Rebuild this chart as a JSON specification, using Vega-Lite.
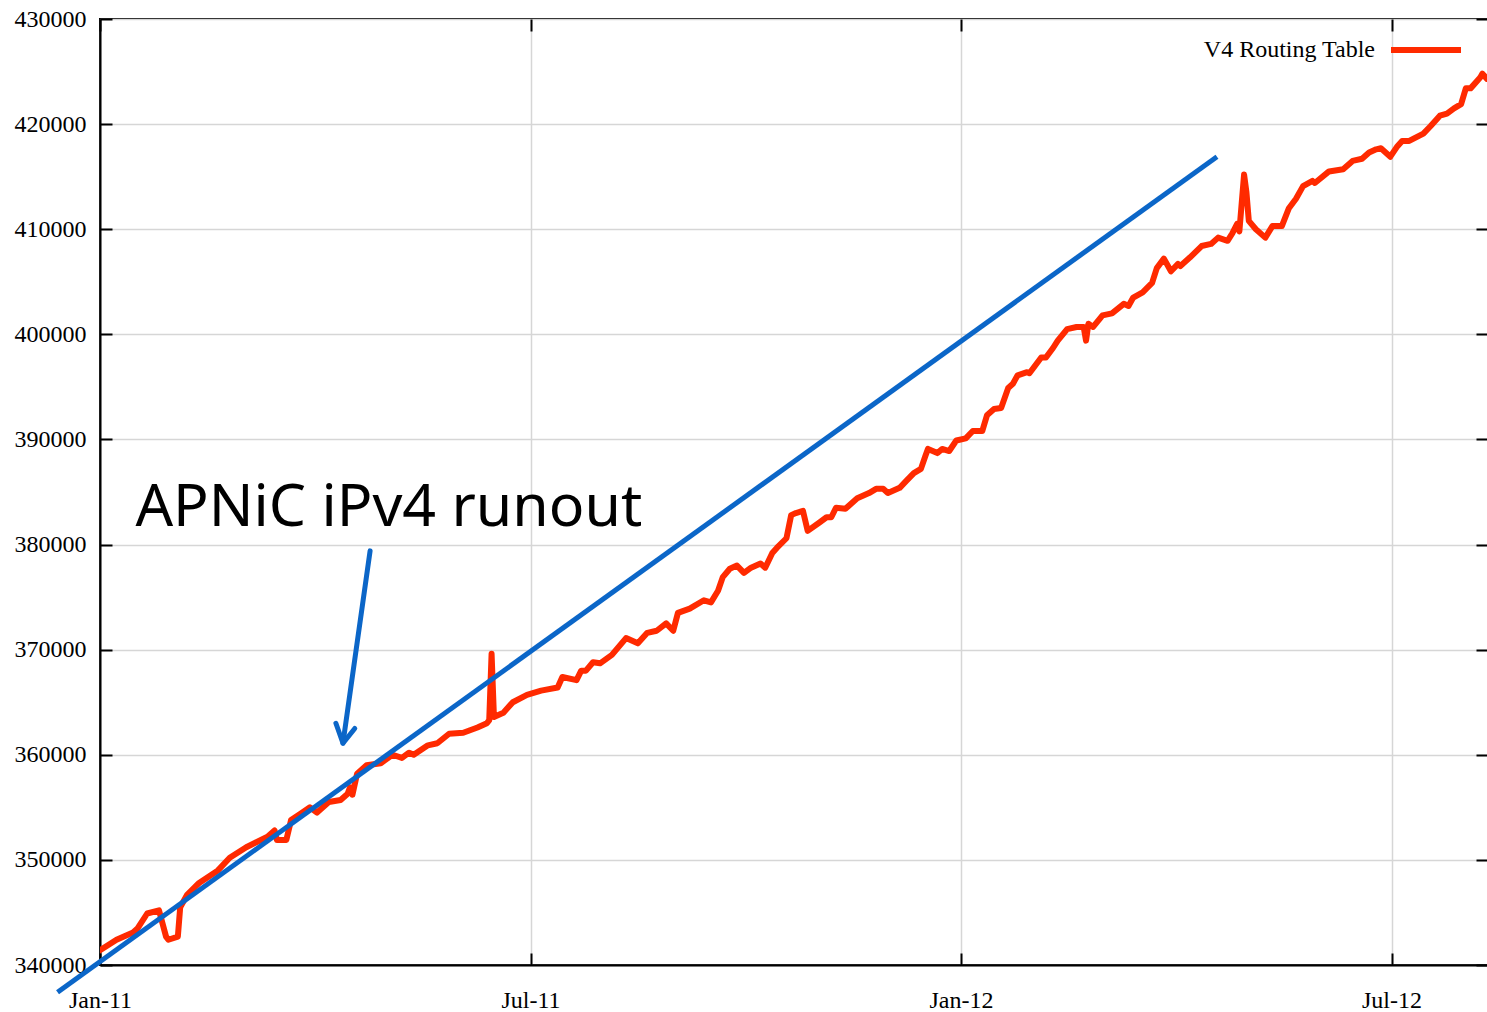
{
  "$schema": "https://vega.github.io/schema/vega-lite/v6.json",
  "width": 1388,
  "height": 946,
  "autosize": "none",
  "padding": {"left": 100, "top": 19, "right": 0, "bottom": 47},
  "background": "white",
  "config": {
    "view": {"stroke": "black", "strokeWidth": 2},
    "axis": {
      "title": null,
      "grid": false,
      "domainColor": "black",
      "domainWidth": 2,
      "tickColor": "black",
      "tickWidth": 2,
      "tickSize": -12,
      "labelFont": "Liberation Serif",
      "labelFontSize": 24,
      "labelColor": "black",
      "labelFlush": false,
      "labelOverlap": false
    }
  },
  "datasets": {
    "routing": [
      {"date": "2011-01-01", "v": 341400},
      {"date": "2011-01-08", "v": 342400},
      {"date": "2011-01-15", "v": 343100},
      {"date": "2011-01-17", "v": 343500},
      {"date": "2011-01-21", "v": 344900},
      {"date": "2011-01-26", "v": 345200},
      {"date": "2011-01-29", "v": 342700},
      {"date": "2011-01-30", "v": 342400},
      {"date": "2011-02-03", "v": 342700},
      {"date": "2011-02-04", "v": 345500},
      {"date": "2011-02-07", "v": 346700},
      {"date": "2011-02-12", "v": 347800},
      {"date": "2011-02-20", "v": 349000},
      {"date": "2011-02-25", "v": 350200},
      {"date": "2011-03-04", "v": 351200},
      {"date": "2011-03-13", "v": 352200},
      {"date": "2011-03-16", "v": 352800},
      {"date": "2011-03-17", "v": 351900},
      {"date": "2011-03-21", "v": 351900},
      {"date": "2011-03-23", "v": 353800},
      {"date": "2011-03-27", "v": 354400},
      {"date": "2011-03-31", "v": 355000},
      {"date": "2011-04-03", "v": 354500},
      {"date": "2011-04-08", "v": 355500},
      {"date": "2011-04-13", "v": 355700},
      {"date": "2011-04-16", "v": 356300},
      {"date": "2011-04-17", "v": 356900},
      {"date": "2011-04-18", "v": 356200},
      {"date": "2011-04-20", "v": 358200},
      {"date": "2011-04-24", "v": 359000},
      {"date": "2011-04-30", "v": 359200},
      {"date": "2011-05-05", "v": 360000},
      {"date": "2011-05-09", "v": 359700},
      {"date": "2011-05-12", "v": 360200},
      {"date": "2011-05-14", "v": 360000},
      {"date": "2011-05-20", "v": 360900},
      {"date": "2011-05-24", "v": 361100},
      {"date": "2011-05-29", "v": 362000},
      {"date": "2011-06-04", "v": 362100},
      {"date": "2011-06-10", "v": 362600},
      {"date": "2011-06-14", "v": 363000},
      {"date": "2011-06-15", "v": 363300},
      {"date": "2011-06-16", "v": 369600},
      {"date": "2011-06-17", "v": 363600},
      {"date": "2011-06-21", "v": 364000},
      {"date": "2011-06-25", "v": 365000},
      {"date": "2011-07-01", "v": 365700},
      {"date": "2011-07-07", "v": 366100},
      {"date": "2011-07-14", "v": 366400},
      {"date": "2011-07-16", "v": 367400},
      {"date": "2011-07-22", "v": 367100},
      {"date": "2011-07-24", "v": 368000},
      {"date": "2011-07-26", "v": 368000},
      {"date": "2011-07-29", "v": 368800},
      {"date": "2011-08-01", "v": 368700},
      {"date": "2011-08-06", "v": 369500},
      {"date": "2011-08-12", "v": 371100},
      {"date": "2011-08-17", "v": 370600},
      {"date": "2011-08-21", "v": 371600},
      {"date": "2011-08-25", "v": 371800},
      {"date": "2011-08-29", "v": 372500},
      {"date": "2011-09-01", "v": 371800},
      {"date": "2011-09-03", "v": 373500},
      {"date": "2011-09-08", "v": 373900},
      {"date": "2011-09-14", "v": 374700},
      {"date": "2011-09-17", "v": 374500},
      {"date": "2011-09-20", "v": 375600},
      {"date": "2011-09-22", "v": 376900},
      {"date": "2011-09-25", "v": 377700},
      {"date": "2011-09-28", "v": 378000},
      {"date": "2011-10-01", "v": 377300},
      {"date": "2011-10-04", "v": 377800},
      {"date": "2011-10-08", "v": 378200},
      {"date": "2011-10-10", "v": 377800},
      {"date": "2011-10-13", "v": 379200},
      {"date": "2011-10-15", "v": 379700},
      {"date": "2011-10-19", "v": 380600},
      {"date": "2011-10-21", "v": 382800},
      {"date": "2011-10-23", "v": 383000},
      {"date": "2011-10-26", "v": 383200},
      {"date": "2011-10-28", "v": 381300},
      {"date": "2011-11-02", "v": 382100},
      {"date": "2011-11-05", "v": 382600},
      {"date": "2011-11-07", "v": 382600},
      {"date": "2011-11-09", "v": 383500},
      {"date": "2011-11-13", "v": 383400},
      {"date": "2011-11-18", "v": 384400},
      {"date": "2011-11-23", "v": 384900},
      {"date": "2011-11-26", "v": 385300},
      {"date": "2011-11-29", "v": 385300},
      {"date": "2011-12-01", "v": 384900},
      {"date": "2011-12-06", "v": 385400},
      {"date": "2011-12-09", "v": 386100},
      {"date": "2011-12-12", "v": 386800},
      {"date": "2011-12-15", "v": 387200},
      {"date": "2011-12-17", "v": 388500},
      {"date": "2011-12-18", "v": 389100},
      {"date": "2011-12-22", "v": 388700},
      {"date": "2011-12-24", "v": 389100},
      {"date": "2011-12-27", "v": 388900},
      {"date": "2011-12-30", "v": 389900},
      {"date": "2012-01-03", "v": 390100},
      {"date": "2012-01-06", "v": 390800},
      {"date": "2012-01-10", "v": 390800},
      {"date": "2012-01-12", "v": 392300},
      {"date": "2012-01-15", "v": 392900},
      {"date": "2012-01-18", "v": 393000},
      {"date": "2012-01-21", "v": 394900},
      {"date": "2012-01-23", "v": 395300},
      {"date": "2012-01-25", "v": 396100},
      {"date": "2012-01-29", "v": 396400},
      {"date": "2012-01-30", "v": 396300},
      {"date": "2012-02-04", "v": 397800},
      {"date": "2012-02-06", "v": 397800},
      {"date": "2012-02-09", "v": 398700},
      {"date": "2012-02-11", "v": 399400},
      {"date": "2012-02-15", "v": 400500},
      {"date": "2012-02-19", "v": 400700},
      {"date": "2012-02-22", "v": 400700},
      {"date": "2012-02-23", "v": 399400},
      {"date": "2012-02-24", "v": 401000},
      {"date": "2012-02-26", "v": 400700},
      {"date": "2012-03-01", "v": 401800},
      {"date": "2012-03-05", "v": 402000},
      {"date": "2012-03-10", "v": 402900},
      {"date": "2012-03-12", "v": 402700},
      {"date": "2012-03-14", "v": 403500},
      {"date": "2012-03-18", "v": 404000},
      {"date": "2012-03-22", "v": 404900},
      {"date": "2012-03-24", "v": 406300},
      {"date": "2012-03-27", "v": 407200},
      {"date": "2012-03-30", "v": 406000},
      {"date": "2012-04-02", "v": 406700},
      {"date": "2012-04-03", "v": 406500},
      {"date": "2012-04-07", "v": 407300},
      {"date": "2012-04-12", "v": 408400},
      {"date": "2012-04-16", "v": 408600},
      {"date": "2012-04-19", "v": 409200},
      {"date": "2012-04-23", "v": 408900},
      {"date": "2012-04-25", "v": 409600},
      {"date": "2012-04-27", "v": 410500},
      {"date": "2012-04-28", "v": 409800},
      {"date": "2012-04-30", "v": 415200},
      {"date": "2012-05-01", "v": 413500},
      {"date": "2012-05-02", "v": 410800},
      {"date": "2012-05-05", "v": 410000},
      {"date": "2012-05-09", "v": 409200},
      {"date": "2012-05-12", "v": 410300},
      {"date": "2012-05-16", "v": 410300},
      {"date": "2012-05-19", "v": 412000},
      {"date": "2012-05-22", "v": 412900},
      {"date": "2012-05-25", "v": 414100},
      {"date": "2012-05-29", "v": 414600},
      {"date": "2012-05-30", "v": 414400},
      {"date": "2012-06-05", "v": 415500},
      {"date": "2012-06-11", "v": 415700},
      {"date": "2012-06-15", "v": 416500},
      {"date": "2012-06-19", "v": 416700},
      {"date": "2012-06-22", "v": 417300},
      {"date": "2012-06-25", "v": 417600},
      {"date": "2012-06-27", "v": 417700},
      {"date": "2012-07-01", "v": 416900},
      {"date": "2012-07-04", "v": 417900},
      {"date": "2012-07-06", "v": 418400},
      {"date": "2012-07-09", "v": 418400},
      {"date": "2012-07-15", "v": 419100},
      {"date": "2012-07-18", "v": 419800},
      {"date": "2012-07-22", "v": 420800},
      {"date": "2012-07-25", "v": 421000},
      {"date": "2012-07-28", "v": 421500},
      {"date": "2012-07-31", "v": 421900},
      {"date": "2012-08-02", "v": 423400},
      {"date": "2012-08-04", "v": 423400},
      {"date": "2012-08-08", "v": 424400},
      {"date": "2012-08-09", "v": 424800},
      {"date": "2012-08-11", "v": 424300}
    ],
    "trend": [
      {"date": "2010-12-14", "v": 337400},
      {"date": "2012-04-18T12:00:00Z", "v": 416900}
    ],
    "arrow": [
      {"part": "shaft", "ord": 1, "date": "2011-04-25T12:00:00Z", "v": 379400},
      {"part": "shaft", "ord": 2, "date": "2011-04-14", "v": 361100},
      {"part": "head", "ord": 1, "date": "2011-04-11", "v": 363000},
      {"part": "head", "ord": 2, "date": "2011-04-14", "v": 361100},
      {"part": "head", "ord": 3, "date": "2011-04-19", "v": 362500}
    ],
    "note": [
      {"date": "2011-01-16", "v": 381800, "t": "APNiC iPv4 runout"}
    ]
  },
  "layer": [
    {
      "data": {"name": "routing"},
      "mark": {"type": "line", "strokeWidth": 6, "strokeJoin": "round", "strokeCap": "round", "clip": true},
      "encoding": {
        "x": {
          "field": "date", "type": "temporal",
          "scale": {"type": "utc", "domain": [1293840000000, 1344677760000]},
          "axis": {
            "orient": "bottom",
            "values": [1293840000000, 1309608000000, 1325376000000, 1341144000000],
            "format": "%b-%y",
            "grid": true, "gridColor": "#d6d6d6", "gridWidth": 1.5,
            "labelPadding": 35
          }
        },
        "y": {
          "field": "v", "type": "quantitative",
          "scale": {"domain": [340000, 430000], "nice": false, "zero": false},
          "axis": {
            "orient": "left",
            "values": [340000, 350000, 360000, 370000, 380000, 390000, 400000, 410000, 420000, 430000],
            "format": "d",
            "grid": true, "gridColor": "#d6d6d6", "gridWidth": 1.5,
            "labelPadding": 26
          }
        },
        "color": {
          "datum": "V4 Routing Table",
          "scale": {"range": ["#ff2a00"]},
          "legend": {
            "title": null,
            "orient": "none",
            "legendX": 1288,
            "legendY": -7,
            "padding": 0,
            "symbolType": "stroke",
            "symbolSize": 4900,
            "symbolStrokeWidth": 6,
            "labelFont": "Liberation Serif",
            "labelFontSize": 24,
            "labelColor": "black",
            "labelAlign": "right",
            "labelOffset": -89,
            "labelLimit": 0
          }
        }
      }
    },
    {
      "data": {"name": "trend"},
      "mark": {"type": "line", "color": "#0b66c8", "strokeWidth": 5, "strokeCap": "butt", "clip": false},
      "encoding": {
        "x": {
          "field": "date", "type": "temporal",
          "scale": {"type": "utc", "domain": [1293840000000, 1344677760000]},
          "axis": {
            "orient": "top",
            "values": [1293840000000, 1309608000000, 1325376000000, 1341144000000],
            "labels": false, "grid": false, "domain": false
          }
        },
        "y": {
          "field": "v", "type": "quantitative",
          "scale": {"domain": [340000, 430000], "nice": false, "zero": false},
          "axis": {
            "orient": "right",
            "values": [340000, 350000, 360000, 370000, 380000, 390000, 400000, 410000, 420000, 430000],
            "labels": false, "grid": false, "domain": false
          }
        }
      }
    },
    {
      "data": {"name": "arrow"},
      "mark": {"type": "line", "color": "#0b66c8", "strokeWidth": 5, "strokeCap": "round", "strokeJoin": "round", "clip": false},
      "encoding": {
        "x": {"field": "date", "type": "temporal", "scale": {"type": "utc", "domain": [1293840000000, 1344677760000]}, "axis": null},
        "y": {"field": "v", "type": "quantitative", "scale": {"domain": [340000, 430000], "nice": false, "zero": false}, "axis": null},
        "detail": {"field": "part"},
        "order": {"field": "ord"}
      }
    },
    {
      "data": {"name": "note"},
      "mark": {"type": "text", "font": "Noto Sans", "fontSize": 59, "align": "left", "baseline": "alphabetic", "color": "black"},
      "encoding": {
        "x": {"field": "date", "type": "temporal", "scale": {"type": "utc", "domain": [1293840000000, 1344677760000]}, "axis": null},
        "y": {"field": "v", "type": "quantitative", "scale": {"domain": [340000, 430000], "nice": false, "zero": false}, "axis": null},
        "text": {"field": "t"}
      }
    }
  ],
  "resolve": {"axis": {"x": "independent", "y": "independent"}}
}
